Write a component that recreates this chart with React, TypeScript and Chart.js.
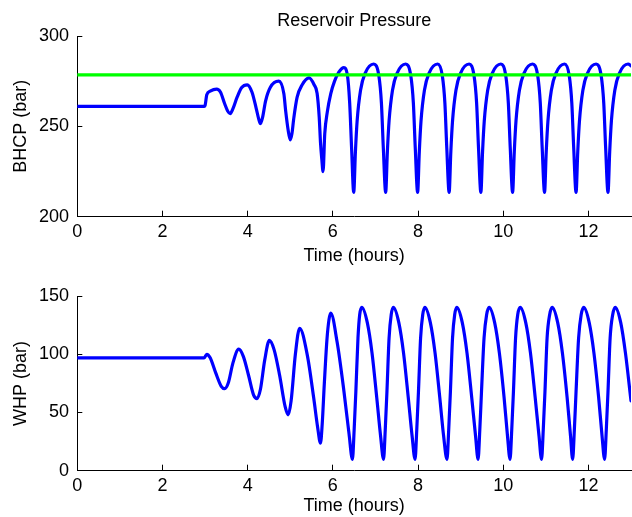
import { useEffect, useRef } from "react";
import { Chart, registerables } from "chart.js";

Chart.register(...registerables);

// Bottom-hole circulating pressure (bar) against time (hours)
const bhcpTime = [
  0, 2.98, 3.0, 3.04, 3.12, 3.27, 3.36, 3.46, 3.53, 3.59, 3.65, 3.75, 3.86, 3.99,
  4.1, 4.2, 4.26, 4.3, 4.35, 4.42, 4.53, 4.73, 4.85, 4.89, 4.95, 5.0, 5.04, 5.08,
  5.16, 5.28, 5.44, 5.56, 5.63, 5.68, 5.71, 5.74, 5.77, 5.81, 5.87, 5.95, 6.04,
  6.14, 6.26, 6.34, 6.395, 6.44,
  6.49, 6.53, 6.57, 6.65, 6.76, 6.96, 7.08, 7.14, 7.185,
  7.24, 7.28, 7.32, 7.4, 7.51, 7.71, 7.83, 7.89, 7.935,
  7.99, 8.03, 8.07, 8.15, 8.26, 8.46, 8.57, 8.63, 8.675,
  8.73, 8.77, 8.81, 8.89, 9.0, 9.2, 9.315, 9.375, 9.42,
  9.475, 9.515, 9.555, 9.635, 9.745, 9.945, 10.06, 10.12, 10.165,
  10.22, 10.26, 10.3, 10.38, 10.49, 10.69, 10.81, 10.87, 10.915,
  10.97, 11.01, 11.05, 11.13, 11.24, 11.44, 11.55, 11.61, 11.655,
  11.71, 11.75, 11.79, 11.87, 11.98, 12.18, 12.3, 12.36, 12.405,
  12.46, 12.5, 12.54, 12.62, 12.73, 12.93, 13.0,
];
const bhcpBar = [
  261, 261, 261.5, 267.5, 269.5, 270.6, 269, 262.5, 258.5, 257, 259.5, 266, 271.5, 273,
  269, 260, 254, 251.5, 255, 264, 271.5, 275, 268, 259, 248, 242.5, 246, 254,
  266, 273, 276.8, 273, 268.3, 255, 241, 232, 225, 246, 258, 268, 275,
  280, 282.5, 278.5, 263, 238,
  213.5, 236, 253, 270, 279.5, 284.5, 278, 263, 238,
  213.5, 236, 253, 270, 279.5, 284.5, 278, 263, 238,
  213.5, 236, 253, 270, 279.5, 284.5, 278, 263, 238,
  213.5, 236, 253, 270, 279.5, 284.5, 278, 263, 238,
  213.5, 236, 253, 270, 279.5, 284.5, 278, 263, 238,
  213.5, 236, 253, 270, 279.5, 284.5, 278, 263, 238,
  213.5, 236, 253, 270, 279.5, 284.5, 278, 263, 238,
  213.5, 236, 253, 270, 279.5, 284.5, 278, 263, 238,
  213.5, 236, 253, 270, 279.5, 284.5, 283.5,
];

// Reservoir pressure reference level (bar)
const reservoirTime = [0, 13];
const reservoirBar = [278.5, 278.5];

// Wellhead pressure (bar) against time (hours)
const whpTime = [
  0, 2.98, 3.04, 3.12, 3.25, 3.38, 3.46, 3.55, 3.65, 3.79, 3.9, 4.02, 4.14, 4.22,
  4.3, 4.4, 4.51, 4.62, 4.75, 4.88, 4.95, 5.02, 5.12, 5.22, 5.4, 5.55, 5.64, 5.71,
  5.75, 5.8, 5.86, 5.91, 5.95, 6.1, 6.26, 6.38,
  6.46, 6.5, 6.54, 6.59, 6.63, 6.68, 6.81, 6.92, 7.03, 7.12,
  7.19, 7.23, 7.27, 7.32, 7.37, 7.42, 7.55, 7.66, 7.77, 7.86,
  7.93, 7.97, 8.01, 8.06, 8.11, 8.16, 8.29, 8.4, 8.51, 8.6,
  8.68, 8.72, 8.76, 8.81, 8.86, 8.91, 9.04, 9.15, 9.26, 9.35,
  9.41, 9.45, 9.49, 9.55, 9.61, 9.67, 9.8, 9.91, 10.02, 10.1,
  10.16, 10.2, 10.24, 10.29, 10.34, 10.4, 10.53, 10.64, 10.75, 10.84,
  10.9, 10.94, 10.98, 11.03, 11.09, 11.15, 11.28, 11.39, 11.5, 11.58,
  11.63, 11.67, 11.71, 11.77, 11.83, 11.89, 12.02, 12.13, 12.24, 12.32,
  12.38, 12.42, 12.46, 12.51, 12.57, 12.63, 12.76, 12.87, 13.0,
];
const whpBar = [
  97, 97, 100, 97, 84, 72.5, 70.5, 76, 92, 104.4, 98, 82, 65, 62,
  70, 95, 112, 104, 82, 55, 48, 60, 100, 122.4, 99.3, 62.6, 38, 23.7,
  40, 75, 112, 130, 135.5, 110.5, 68.3, 31.6,
  9.8, 35, 68, 114, 134, 140.3, 127, 101, 63, 30,
  9.8, 35, 68, 114, 134, 140.3, 127, 101, 63, 30,
  9.8, 35, 68, 114, 134, 140.3, 127, 101, 63, 30,
  9.8, 35, 68, 114, 134, 140.3, 127, 101, 63, 30,
  9.8, 35, 68, 114, 134, 140.3, 127, 101, 63, 30,
  9.8, 35, 68, 114, 134, 140.3, 127, 101, 63, 30,
  9.8, 35, 68, 114, 134, 140.3, 127, 101, 63, 30,
  9.8, 35, 68, 114, 134, 140.3, 127, 101, 63, 30,
  9.8, 35, 68, 114, 134, 140.3, 127, 101, 60,
];

const timeTicks = [0, 2, 4, 6, 8, 10, 12];
const bhcpTicks = [200, 250, 300];
const whpTicks = [0, 50, 100, 150];

const FONT = "'Liberation Sans', Arial, Helvetica, sans-serif";
const axisFont = { family: FONT, size: 18, weight: "normal" as const };
const INK = "#000000";
const BLUE = "#0000ff";
const GREEN = "#00ff00";

const WIDTH = 632;
const TOP_H = 272;
const BOTTOM_H = 245;
const AXIS_LEFT = 77.3;

const pairs = (xs: number[], ys: number[]) => xs.map((x, i) => ({ x, y: ys[i] }));

function timeAxis(height: number, titleGap: number) {
  return {
    type: "linear" as const,
    position: "bottom" as const,
    min: 0,
    max: 13,
    afterBuildTicks: (s: any) => {
      s.ticks = timeTicks.map((v) => ({ value: v }));
    },
    afterFit: (s: any) => {
      s.height = height;
    },
    grid: {
      drawOnChartArea: false,
      drawTicks: true,
      tickLength: -6,
      tickColor: INK,
      tickWidth: 1,
    },
    border: { display: true, color: INK, width: 1 },
    ticks: {
      color: INK,
      font: axisFont,
      padding: 10.5,
      maxRotation: 0,
      autoSkip: false,
    },
    title: {
      display: true,
      text: "Time (hours)",
      color: INK,
      font: axisFont,
      padding: { top: 0, bottom: titleGap },
    },
  };
}

function valueAxis(min: number, max: number, ticks: number[], label: string) {
  return {
    type: "linear" as const,
    position: "left" as const,
    min,
    max,
    afterBuildTicks: (s: any) => {
      s.ticks = ticks.map((v) => ({ value: v }));
    },
    afterFit: (s: any) => {
      s.width = AXIS_LEFT;
    },
    grid: {
      drawOnChartArea: false,
      drawTicks: true,
      tickLength: -5,
      tickColor: INK,
      tickWidth: 1,
    },
    border: { display: true, color: INK, width: 1 },
    ticks: {
      color: INK,
      font: axisFont,
      padding: 13.3,
      autoSkip: false,
    },
    title: {
      display: true,
      text: label,
      color: INK,
      font: axisFont,
      padding: { top: 10.5, bottom: 0 },
    },
  };
}

const lineStyle = {
  pointRadius: 0,
  pointHoverRadius: 0,
  borderWidth: 3.2,
  fill: false,
  cubicInterpolationMode: "monotone" as const,
  borderJoinStyle: "round" as const,
  borderCapStyle: "round" as const,
};

export default function App() {
  const topRef = useRef<HTMLCanvasElement>(null);
  const bottomRef = useRef<HTMLCanvasElement>(null);

  useEffect(() => {
    if (!topRef.current || !bottomRef.current) return;

    const top = new Chart(topRef.current, {
      type: "line",
      data: {
        datasets: [
          { ...lineStyle, data: pairs(reservoirTime, reservoirBar), borderColor: GREEN },
          { ...lineStyle, data: pairs(bhcpTime, bhcpBar), borderColor: BLUE },
        ],
      },
      options: {
        animation: false,
        responsive: false,
        devicePixelRatio: 1,
        layout: { padding: { left: 0, right: 1, top: 0, bottom: 0 } },
        plugins: {
          legend: { display: false },
          tooltip: { enabled: false },
          title: {
            display: true,
            text: "Reservoir Pressure",
            color: INK,
            font: axisFont,
            fullSize: false,
            padding: { top: 10, bottom: 4.4 },
          },
        },
        scales: {
          x: timeAxis(TOP_H - 216.7, 5),
          y: valueAxis(200, 300, bhcpTicks, "BHCP (bar)"),
        },
      },
    });

    const bottom = new Chart(bottomRef.current, {
      type: "line",
      data: {
        datasets: [{ ...lineStyle, data: pairs(whpTime, whpBar), borderColor: BLUE }],
      },
      options: {
        animation: false,
        responsive: false,
        devicePixelRatio: 1,
        layout: { padding: { left: 0, right: 1, top: 21.3, bottom: 0 } },
        plugins: {
          legend: { display: false },
          tooltip: { enabled: false },
        },
        scales: {
          x: timeAxis(BOTTOM_H - 198.7, 0),
          y: valueAxis(0, 150, whpTicks, "WHP (bar)"),
        },
      },
    });

    return () => {
      top.destroy();
      bottom.destroy();
    };
  }, []);

  return (
    <div
      style={{
        position: "fixed",
        left: 0,
        top: 0,
        width: WIDTH,
        height: TOP_H + BOTTOM_H,
        background: "#ffffff",
        overflow: "hidden",
      }}
    >
      <canvas
        ref={topRef}
        width={WIDTH}
        height={TOP_H}
        style={{ position: "absolute", left: 0, top: 0, width: WIDTH, height: TOP_H }}
      />
      <canvas
        ref={bottomRef}
        width={WIDTH}
        height={BOTTOM_H}
        style={{ position: "absolute", left: 0, top: TOP_H, width: WIDTH, height: BOTTOM_H }}
      />
    </div>
  );
}
